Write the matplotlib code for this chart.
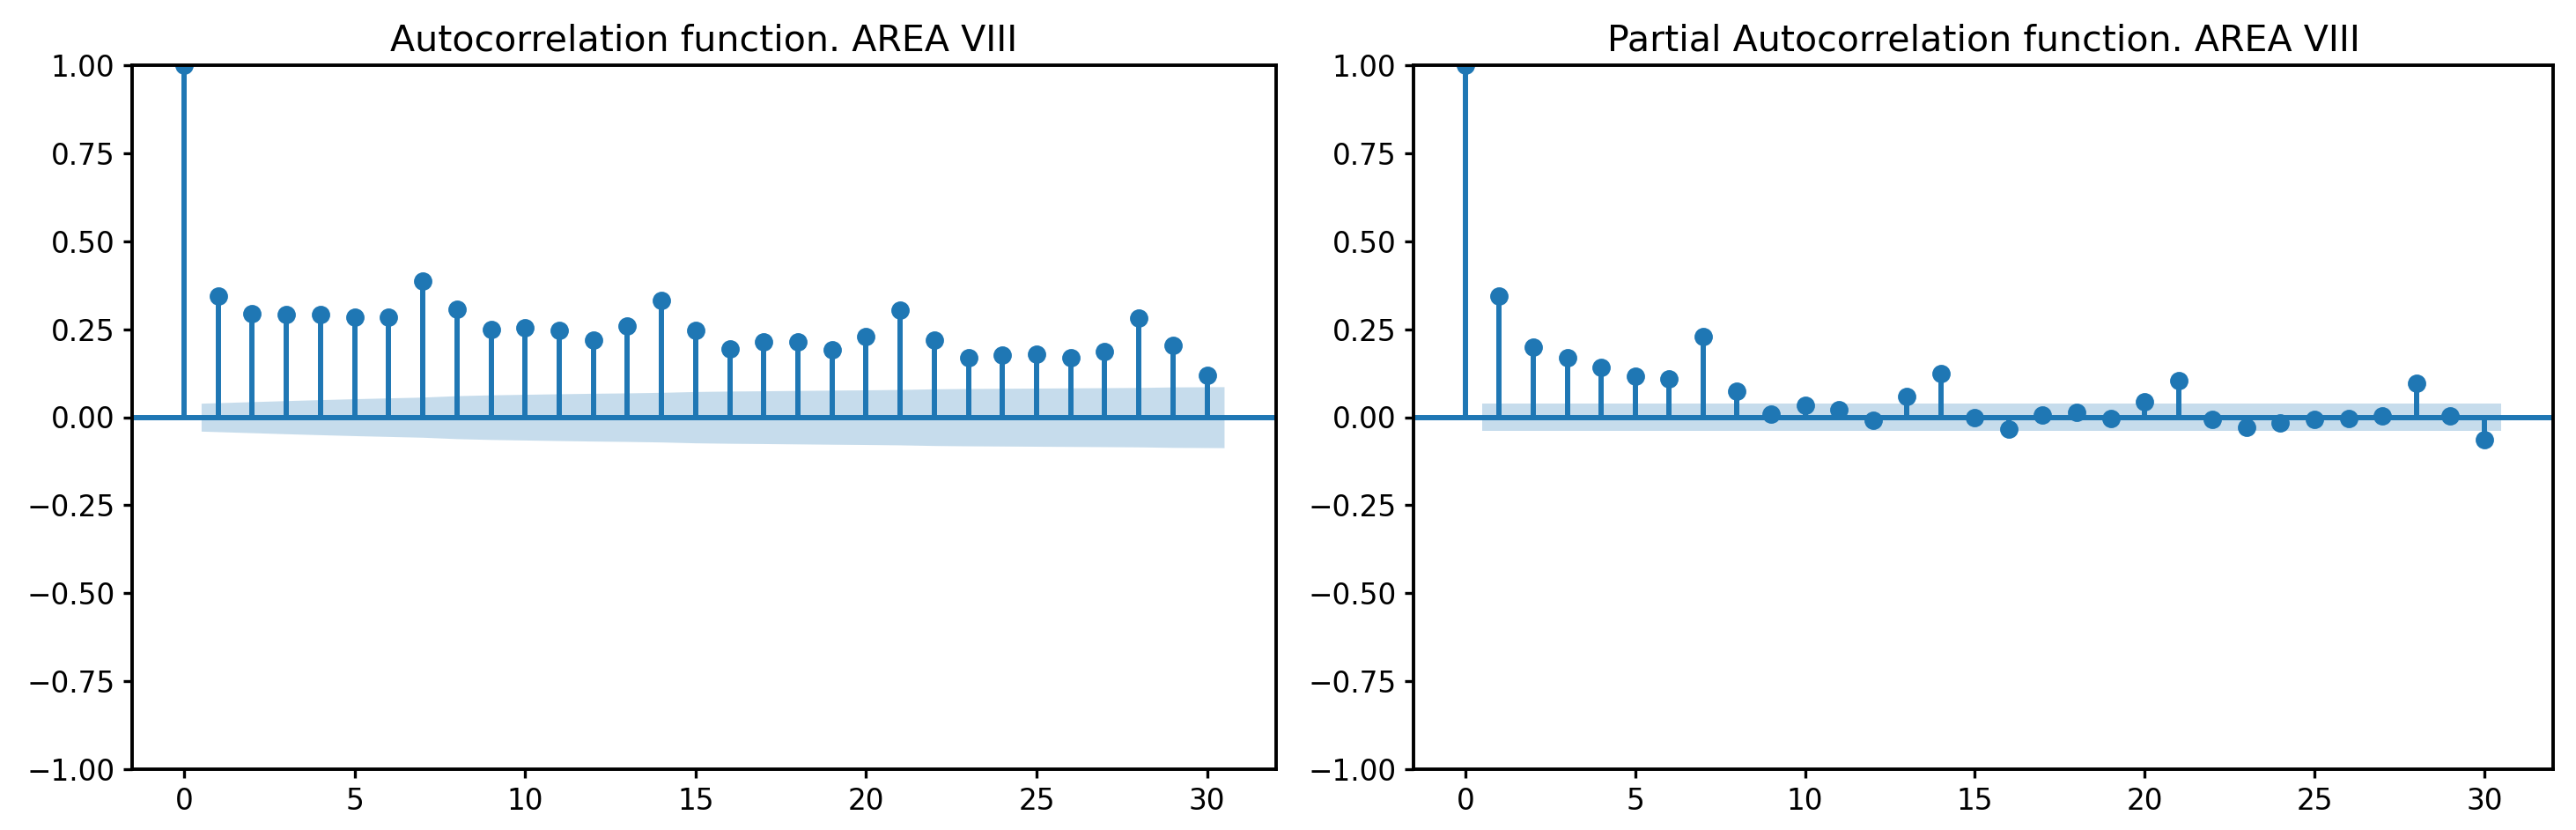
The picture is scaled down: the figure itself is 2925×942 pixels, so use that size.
import numpy as np
import matplotlib
matplotlib.use("Agg")
import matplotlib.pyplot as plt

# valeurs (lags 0..30)
lags = np.arange(0, 31)

acf_vals = [1.0, 0.343, 0.294, 0.291, 0.291, 0.283, 0.283, 0.387, 0.306, 0.248,
            0.255, 0.246, 0.218, 0.258, 0.331, 0.246, 0.195, 0.213, 0.215, 0.192,
            0.230, 0.304, 0.220, 0.170, 0.176, 0.179, 0.170, 0.186, 0.281, 0.203,
            0.120]

pacf_vals = [1.0, 0.343, 0.200, 0.169, 0.142, 0.116, 0.108, 0.229, 0.075, 0.010,
             0.033, 0.021, -0.009, 0.058, 0.124, -0.002, -0.033, 0.007, 0.013, -0.004,
             0.044, 0.105, -0.006, -0.030, -0.016, -0.006, -0.003, 0.005, 0.096, 0.004,
             -0.065]

n_obs = 2440  # nb d'observations (estimé depuis la largeur de la bande)
titles = ["Autocorrelation function. AREA VIII",
          "Partial Autocorrelation function. AREA VIII"]

plt.rcParams["axes.linewidth"] = 1.4
plt.rcParams["xtick.major.width"] = 1.2
plt.rcParams["ytick.major.width"] = 1.2
plt.rcParams["xtick.major.size"] = 3.6
plt.rcParams["ytick.major.size"] = 3.6


def bande_acf(vals, n):
    """intervalle de confiance de Bartlett (comme statsmodels)"""
    vals = np.asarray(vals)
    var = np.ones(len(vals)) / n
    var[0] = 0
    var[2:] *= 1 + 2 * np.cumsum(vals[1:-1] ** 2)
    return 1.96 * np.sqrt(var)


def bande_pacf(vals, n):
    return 1.96 * np.ones(len(vals)) / np.sqrt(n)


def trace_corr(ax, vals, bande, titre):
    vals = np.asarray(vals)
    ax.vlines(lags, [0], vals, color="C0", lw=2.15)
    ax.axhline(0, color="C0", lw=2.15)
    ax.margins(0.05)
    ax.plot(lags, vals, marker="o", markersize=6.5, linestyle="None", color="C0")
    ax.set_title(titre, fontsize=14.8)
    ax.set_ylim(-1, 1)
    # bande sans le lag 0
    x = lags[1:].astype(float)
    x[0] -= 0.5
    x[-1] += 0.5
    b = bande[1:]
    ax.fill_between(x, -b, b, alpha=0.25, color="C0", lw=0)


fig = plt.figure(figsize=(14.625, 4.71), dpi=200)
ax1 = fig.add_axes([150 / 2925, 69 / 942, 1299 / 2925, 799 / 942])
ax2 = fig.add_axes([1605 / 2925, 69 / 942, 1294 / 2925, 799 / 942])

trace_corr(ax1, acf_vals, bande_acf(acf_vals, n_obs), titles[0])
trace_corr(ax2, pacf_vals, bande_pacf(pacf_vals, n_obs), titles[1])

for ax in (ax1, ax2):
    ax.tick_params(labelsize=11.8)
    ax.set_yticks(np.arange(-1, 1.01, 0.25))

fig.savefig("out.png", dpi=200)
